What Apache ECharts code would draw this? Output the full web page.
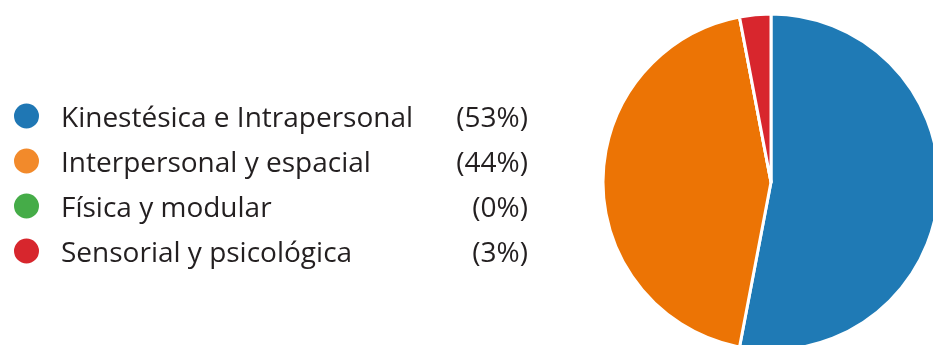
<!DOCTYPE html>
<html>
<head>
<meta charset="utf-8">
<script src="https://cdn.jsdelivr.net/npm/echarts@6/dist/echarts.min.js"></script>
<style>
  html, body { margin: 0; padding: 0; background: #fff; }
  #chart { width: 933px; height: 345px; }
</style>
</head>
<body>
<div id="chart"></div>
<script>
// Categories and their shares (percent)
const categories = [
  'Kinestésica e Intrapersonal',
  'Interpersonal y espacial',
  'Física y modular',
  'Sensorial y psicológica'
];
const shares = [53, 44, 0, 3];
const sliceColors = ['#1f7ab5', '#ec7405', '#3aa845', '#d8262d'];
const legendColors = ['#1f77b4', '#f28a2b', '#45ac48', '#d7262d'];

const chart = echarts.init(document.getElementById('chart'), null, { renderer: 'canvas' });

const pieData = categories.map((name, i) => ({
  name,
  value: shares[i],
  itemStyle: { color: sliceColors[i] }
}));

const FONT = 'Open Sans';
const SIZE = 28;

chart.setOption({
  animation: false,
  legend: {
    orient: 'vertical',
    left: 12,
    top: 99,
    padding: 0,
    icon: 'circle',
    itemWidth: 27,
    itemHeight: 27,
    itemGap: 11,
    selectedMode: false,
    data: categories.map((name, i) => ({ name, itemStyle: { color: legendColors[i] } })),
    formatter: name => {
      const i = categories.indexOf(name);
      return '{n|' + name + '}{p|(' + shares[i] + '%)}';
    },
    textStyle: {
      color: '#231f20',
      fontFamily: FONT,
      fontSize: SIZE,
      lineHeight: 27,
      padding: [0, 0, 0, 16],
      rich: {
        n: { fontFamily: FONT, fontSize: SIZE, color: '#231f20', width: 385, lineHeight: 27, padding: [6, 0, 0, 0] },
        p: { fontFamily: FONT, fontSize: SIZE, color: '#231f20', width: 82, align: 'right', lineHeight: 27, padding: [6, 0, 0, 0] }
      }
    }
  },
  series: [{
    type: 'pie',
    center: [771, 182],
    radius: 168,
    startAngle: 90,
    clockwise: true,
    label: { show: false },
    labelLine: { show: false },
    emphasis: { disabled: true },
    itemStyle: { borderColor: '#ffffff', borderWidth: 3 },
    data: pieData
  }]
});
</script>
</body>
</html>
